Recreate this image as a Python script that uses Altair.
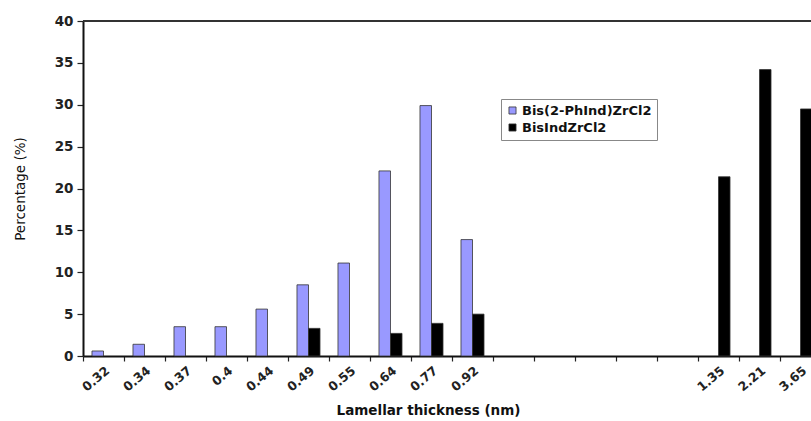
import altair as alt
import pandas as pd

categories = ["0.32", "0.34", "0.37", "0.4", "0.44", "0.49", "0.55", "0.64", "0.77", "0.92",
              " ", "  ", "   ", "    ", "     ", "1.35", "2.21", "3.65"]
blue_vals = [0.6, 1.4, 3.5, 3.5, 5.6, 8.5, 11.1, 22.1, 29.9, 13.9,
             0, 0, 0, 0, 0, 0, 0, 0]
black_vals = [0, 0, 0, 0, 0, 3.3, 0, 2.7, 3.9, 5.0,
              0, 0, 0, 0, 0, 21.4, 34.2, 29.5]
series = ["Bis(2-PhInd)ZrCl2", "BisIndZrCl2"]
colors = ["#9999FF", "#000000"]

rows = []
for c, b, k in zip(categories, blue_vals, black_vals):
    rows.append({"cat": c, "series": series[0], "value": b})
    rows.append({"cat": c, "series": series[1], "value": k})
df = pd.DataFrame(rows)
df = df[df["value"] > 0].reset_index(drop=True)

FONT = "DejaVu Sans"

bars = alt.Chart(df).mark_bar(stroke="#333333", strokeWidth=0.8).encode(
    x=alt.X("cat:N", sort=categories,
            scale=alt.Scale(domain=categories, range=[0, 738], paddingInner=0, paddingOuter=0),
            axis=alt.Axis(title="Lamellar thickness (nm)", labelAngle=-40, labelAlign="right",
                          labelBaseline="top", labelFont=FONT, labelFontWeight="bold",
                          labelFontSize=12.5, labelColor="#222", labelPadding=3,
                          tickBand="extent", ticks=True, tickSize=5, tickColor="#222",
                          tickWidth=1.2, domainColor="#111", domainWidth=2,
                          titleFont=FONT, titleFontWeight="bold", titleFontSize=13.5,
                          titleColor="#111", titleX=345, titleY=58, titleAlign="center",
                          titleBaseline="alphabetic", labelOverlap=False)),
    xOffset=alt.XOffset("series:N", sort=series,
                        scale=alt.Scale(domain=series, paddingInner=0, paddingOuter=0.78)),
    y=alt.Y("value:Q", scale=alt.Scale(domain=[0, 40]),
            axis=alt.Axis(title="Percentage (%)", values=list(range(0, 41, 5)), grid=False,
                          labelFont=FONT, labelFontWeight="bold", labelFontSize=13.5,
                          labelColor="#222", labelPadding=4, tickSize=6, tickColor="#222",
                          tickWidth=1.2, domainColor="#111", domainWidth=2,
                          titleFont=FONT, titleFontWeight="normal", titleFontSize=13.5,
                          titleColor="#111", titlePadding=27)),
    color=alt.Color("series:N", sort=series,
                    scale=alt.Scale(domain=series, range=colors),
                    legend=alt.Legend(title=None, orient="none", legendX=418, legendY=78,
                                      symbolType="square", symbolSize=50,
                                      symbolStrokeColor="#333", symbolStrokeWidth=0.8,
                                      labelFont=FONT, labelFontWeight="bold", labelFontSize=13,
                                      labelColor="#111", strokeColor="#888", fillColor="white",
                                      padding=5, rowPadding=3, labelOffset=3)),
)

top_line = alt.Chart(pd.DataFrame({"top": [40]})).mark_rule(color="#333", strokeWidth=2).encode(
    y=alt.Y("top:Q")
)

chart = alt.layer(bars, top_line).properties(
    width=728, height=335,
    background="white",
    autosize=alt.AutoSizeParams(type="none"),
    padding={"left": 83, "top": 21, "right": 0, "bottom": 65},
).configure_view(strokeWidth=0)

chart.save("out.html", embed_options={"renderer": "svg", "actions": False})
